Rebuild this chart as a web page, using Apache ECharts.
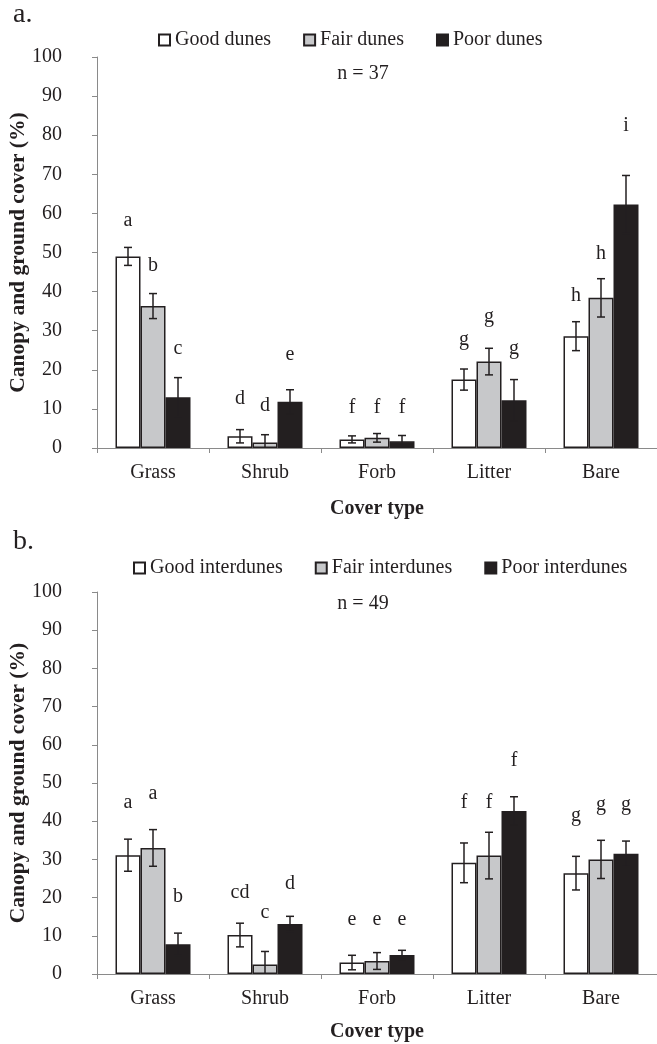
<!DOCTYPE html>
<html><head><meta charset="utf-8">
<script src="https://cdn.jsdelivr.net/npm/echarts@6/dist/echarts.min.js"></script>
<style>html,body{margin:0;padding:0;background:#fff}#c{width:657px;height:1044px}</style>
</head><body><div id="c"></div>
<script>
// ---- data ----
const categories = ['Grass', 'Shrub', 'Forb', 'Litter', 'Bare'];

const duneNames = ['Good dunes', 'Fair dunes', 'Poor dunes'];
const duneGood = [49.0, 3.0, 2.2, 17.5, 28.6];
const duneGoodErr = [2.3, 1.7, 0.9, 2.7, 3.7];
const duneGoodLetters = ['a', 'd', 'f', 'g', 'h'];
const duneGoodLetterAt = [58.1, 12.6, 10.3, 27.6, 39.0];
const duneFair = [36.3, 1.4, 2.6, 22.1, 38.4];
const duneFairErr = [3.2, 2.0, 1.1, 3.4, 4.9];
const duneFairLetters = ['b', 'd', 'f', 'g', 'h'];
const duneFairLetterAt = [46.5, 10.7, 10.3, 33.6, 49.7];
const dunePoor = [13.0, 11.8, 1.7, 12.2, 62.3];
const dunePoorErr = [5.0, 3.1, 1.5, 5.3, 7.4];
const dunePoorLetters = ['c', 'e', 'f', 'g', 'i'];
const dunePoorLetterAt = [25.3, 23.8, 10.3, 25.5, 82.4];

const interNames = ['Good interdunes', 'Fair interdunes', 'Poor interdunes'];
const interGood = [31.1, 10.2, 3.0, 29.1, 26.4];
const interGoodErr = [4.2, 3.1, 1.9, 5.2, 4.4];
const interGoodLetters = ['a', 'cd', 'e', 'f', 'g'];
const interGoodLetterAt = [44.9, 21.2, 14.3, 44.9, 41.5];
const interFair = [33.0, 2.5, 3.4, 31.0, 30.0];
const interFairErr = [4.8, 3.4, 2.2, 6.1, 5.0];
const interFairLetters = ['a', 'c', 'e', 'f', 'g'];
const interFairLetterAt = [47.2, 16.0, 14.3, 44.9, 44.2];
const interPoor = [7.8, 13.1, 5.0, 42.7, 31.5];
const interPoorErr = [2.9, 2.0, 1.2, 3.7, 3.3];
const interPoorLetters = ['b', 'd', 'e', 'f', 'g'];
const interPoorLetterAt = [20.2, 23.7, 14.3, 55.8, 44.2];

const panelLabels = ['a.', 'b.'];
const sampleSizes = ['n = 37', 'n = 49'];
const yAxisTitle = 'Canopy and ground cover (%)';
const xAxisTitle = 'Cover type';

// ---- styles ----
const FONT = '"Liberation Serif", "Times New Roman", serif';
const INK = '#231f20';
const AXIS = '#8a8a8a';
const FILLS = ['#ffffff', '#c7c8ca', '#231f20'];
const BAR_W = 25;
const CAP = 4;

function makeErrItems(means, errs, letters, at) {
  const items = [];
  for (let s = 0; s < 3; s++) {
    for (let i = 0; i < categories.length; i++) {
      items.push({ value: [i, means[s][i], errs[s][i], at[s][i], s], letter: letters[s][i] });
    }
  }
  return items;
}

function errSeries(gridIdx, items) {
  return {
    type: 'custom',
    xAxisIndex: gridIdx, yAxisIndex: gridIdx,
    z: 5, silent: true,
    encode: { x: 0, y: 1 },
    data: items.map(d => d.value),
    renderItem: function (params, api) {
      const it = items[params.dataIndex];
      const ci = api.value(0), mean = api.value(1), err = api.value(2), at = api.value(3), s = api.value(4);
      const cx = api.coord([ci, mean])[0] + (s - 1) * BAR_W;
      const yT = api.coord([ci, mean + err])[1];
      const lowClipped = mean - err < 0;
      const yB = api.coord([ci, Math.max(0, mean - err)])[1];
      const yL = api.coord([ci, at])[1];
      const st = { stroke: INK, lineWidth: 1.5 };
      const ch = [
        { type: 'line', shape: { x1: cx, y1: yT, x2: cx, y2: yB }, style: st },
        { type: 'line', shape: { x1: cx - CAP, y1: yT, x2: cx + CAP, y2: yT }, style: st }
      ];
      if (!lowClipped) ch.push({ type: 'line', shape: { x1: cx - CAP, y1: yB, x2: cx + CAP, y2: yB }, style: st });
      ch.push({ type: 'text', x: cx, y: yL, style: { text: it.letter, fill: INK, font: '20px ' + FONT, align: 'center', verticalAlign: 'middle' } });
      return { type: 'group', children: ch };
    }
  };
}

function barSeries(names, vals, gridIdx) {
  return names.map((n, s) => ({
    name: n, type: 'bar', xAxisIndex: gridIdx, yAxisIndex: gridIdx,
    data: vals[s], barWidth: BAR_W, barGap: '0%',
    itemStyle: { color: FILLS[s], borderColor: INK, borderWidth: 1.5 },
    emphasis: { disabled: true }, animation: false
  }));
}

function xAx(gridIdx, nameGap) {
  return {
    type: 'category', gridIndex: gridIdx, data: categories,
    axisLine: { lineStyle: { color: AXIS, width: 1 } },
    axisTick: { show: true, length: 5, lineStyle: { color: AXIS } },
    axisLabel: { color: INK, fontFamily: FONT, fontSize: 20, margin: 15 },
    name: xAxisTitle, nameLocation: 'middle', nameGap: nameGap, nameMoveOverlap: false,
    nameTextStyle: { color: INK, fontFamily: FONT, fontSize: 20, fontWeight: 'bold' }
  };
}
function yAx(gridIdx) {
  return {
    type: 'value', gridIndex: gridIdx, min: 0, max: 100, interval: 10,
    splitLine: { show: false },
    axisLine: { show: true, lineStyle: { color: AXIS, width: 1 } },
    axisTick: { show: true, length: 5, lineStyle: { color: AXIS } },
    axisLabel: { color: INK, fontFamily: FONT, fontSize: 20, margin: 35 },
    name: yAxisTitle, nameLocation: 'middle', nameGap: 68, nameRotate: 90, nameMoveOverlap: false,
    nameTextStyle: { color: INK, fontFamily: FONT, fontSize: 21.5, fontWeight: 'bold' }
  };
}

const duneItems = makeErrItems([duneGood, duneFair, dunePoor], [duneGoodErr, duneFairErr, dunePoorErr],
  [duneGoodLetters, duneFairLetters, dunePoorLetters], [duneGoodLetterAt, duneFairLetterAt, dunePoorLetterAt]);
const interItems = makeErrItems([interGood, interFair, interPoor], [interGoodErr, interFairErr, interPoorErr],
  [interGoodLetters, interFairLetters, interPoorLetters], [interGoodLetterAt, interFairLetterAt, interPoorLetterAt]);

const legendCommon = {
  icon: 'rect', itemWidth: 11, itemHeight: 11, itemGap: 32, orient: 'horizontal',
  textStyle: { color: INK, fontFamily: FONT, fontSize: 20 },
  selectedMode: false
};

const chart = echarts.init(document.getElementById('c'), null, { renderer: 'canvas' });
chart.setOption({
  animation: false,
  backgroundColor: '#ffffff',
  grid: [
    { left: 97, right: 0, top: 57, height: 391, containLabel: false, outerBoundsMode: 'none' },
    { left: 97, right: 0, top: 592, height: 382, containLabel: false, outerBoundsMode: 'none' }
  ],
  legend: [
    Object.assign({}, legendCommon, { data: duneNames, left: 153, top: 25 }),
    Object.assign({}, legendCommon, { data: interNames, left: 128, top: 553 })
  ],
  xAxis: [xAx(0, 51), xAx(1, 48)],
  yAxis: [yAx(0), yAx(1)],
  graphic: [
    { type: 'text', left: 13, top: 1, style: { text: panelLabels[0], fill: INK, font: '28px ' + FONT } },
    { type: 'text', left: 13, top: 528, style: { text: panelLabels[1], fill: INK, font: '28px ' + FONT } },
    { type: 'text', x: 363, y: 74, style: { text: sampleSizes[0], fill: INK, font: '20px ' + FONT, align: 'center', verticalAlign: 'middle' } },
    { type: 'text', x: 363, y: 604, style: { text: sampleSizes[1], fill: INK, font: '20px ' + FONT, align: 'center', verticalAlign: 'middle' } }
  ],
  series: [].concat(
    barSeries(duneNames, [duneGood, duneFair, dunePoor], 0),
    [errSeries(0, duneItems)],
    barSeries(interNames, [interGood, interFair, interPoor], 1),
    [errSeries(1, interItems)]
  )
});
</script></body></html>
